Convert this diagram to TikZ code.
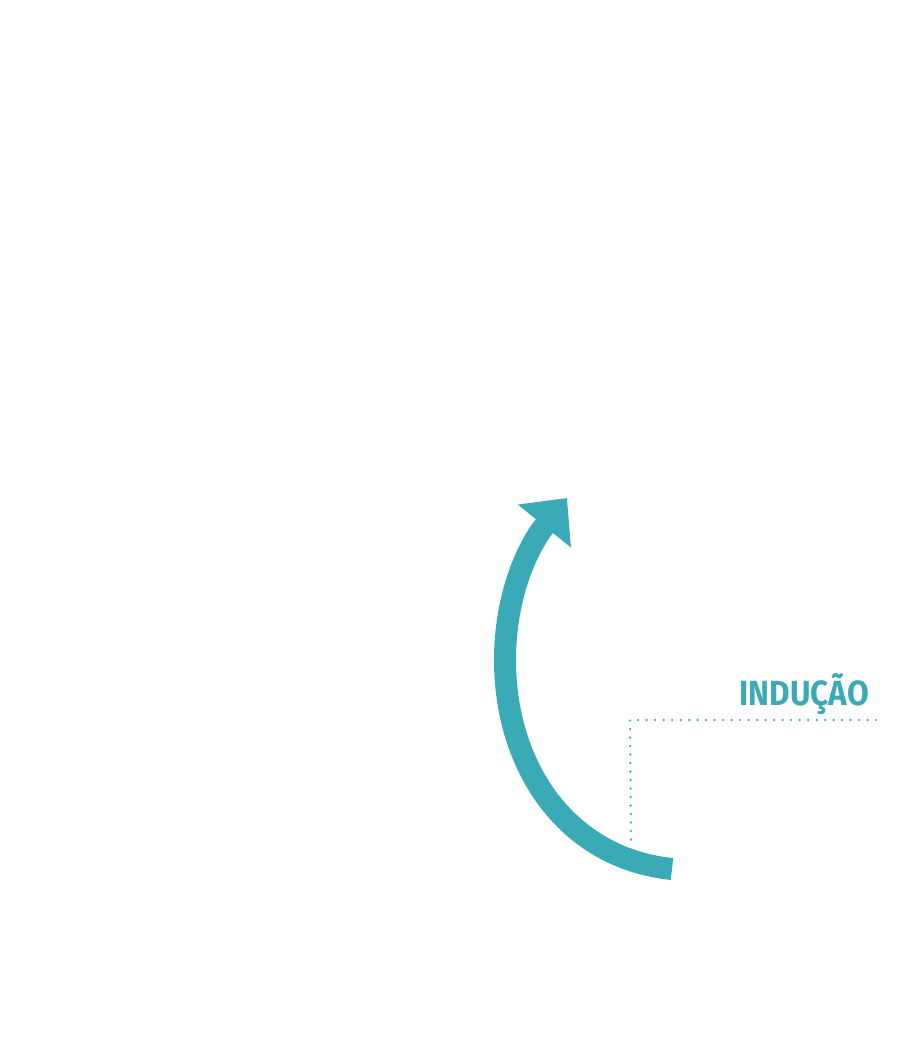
\documentclass[tikz,border=0pt]{standalone}
\usepackage{fontspec}
\newfontfamily\labfont[FakeStretch=0.9]{Fira Sans}
\definecolor{Tealcol}{HTML}{3AABB6}
\usetikzlibrary{arrows.meta, positioning}
\tikzset{
    >=Stealth,
    bigarrow/.style={Tealcol, line width=22pt,
        -{Triangle[length=36pt, width=66pt]}},
    dotline/.style={Tealcol, line width=2.5pt, line cap=round,
        dash pattern=on 0pt off 8.5pt},
    lab/.style={Tealcol, font=\labfont\bfseries\fontsize{35}{40}\selectfont,
        inner sep=0pt}
}

\begin{document}
\begin{tikzpicture}[x=1pt, y=-1pt]
    % Canvas
    \useasboundingbox (0, 0) rectangle (921, 1062);

    % Points of the arrow
    \coordinate (tail) at (672, 869);
    \coordinate (left) at (505, 660);
    \coordinate (tip) at (567, 498);

    % Curved arrow
    \draw[bigarrow] (tail) .. controls (565, 858) and (505, 765) .. (left)
        .. controls (505, 600) and (525, 550) .. (tip);

    % Label
    \node[lab, anchor=base east] (induc) at (869, 705) {INDUÇÃO};

    % Dotted leader
    \coordinate (corner) at (630, 720);
    \coordinate (rend) at (876, 720);
    \coordinate (dend) at (631, 840);
    \draw[dotline] (rend) -- (corner) -- (dend);
\end{tikzpicture}
\end{document}
